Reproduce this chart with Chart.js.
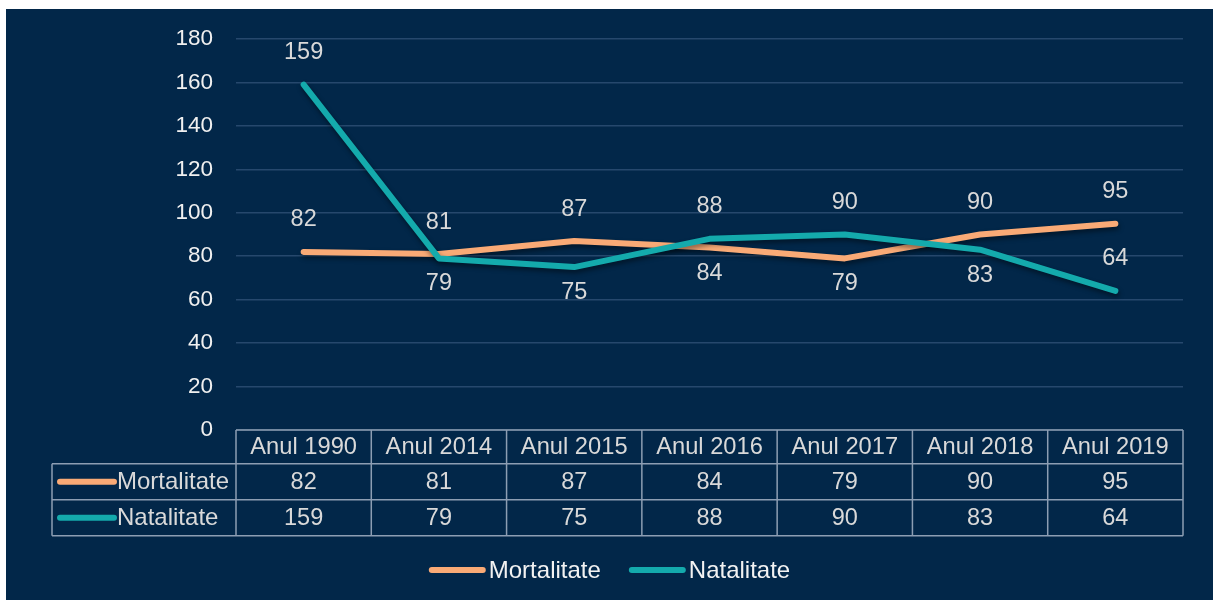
<!DOCTYPE html>
<html><head><meta charset="utf-8">
<script src="https://cdn.jsdelivr.net/npm/chart.js@4.4.0/dist/chart.umd.min.js"></script>
<style>html,body{margin:0;padding:0;background:#fff;overflow:hidden}#wrap{width:1213px;height:600px;position:relative}</style>
</head><body><div id="wrap"><canvas id="c" width="1213" height="600"></canvas></div>
<script>
const categories = ['Anul 1990','Anul 2014','Anul 2015','Anul 2016','Anul 2017','Anul 2018','Anul 2019'];
const seriesNames = ['Mortalitate','Natalitate'];
const mortalitate = [82,81,87,84,79,90,95];
const natalitate = [159,79,75,88,90,83,64];
const mortLabelPos = ['above','above','above','below','below','above','above'];
const natLabelPos = ['above','below','below','above','above','below','above'];
const yMin = 0, yMax = 180, yStep = 20;

const NAVY = '#022749';
const ORANGE = '#F9AA76';
const TEAL = '#14AAAC';
const FONT = '"Liberation Sans", Arial, sans-serif';
const labelPositions = [mortLabelPos, natLabelPos];

const bgPlugin = {
  id: 'bg',
  beforeDraw(chart) {
    const ctx = chart.ctx;
    ctx.save();
    ctx.fillStyle = '#ffffff';
    ctx.fillRect(0, 0, chart.width, chart.height);
    ctx.fillStyle = NAVY;
    ctx.fillRect(6, 9, chart.width - 6, chart.height - 9);
    ctx.restore();
  }
};

const shadowPlugin = {
  id: 'shadow',
  beforeDatasetDraw(chart) {
    const ctx = chart.ctx;
    ctx.save();
    ctx.shadowColor = 'rgba(0,0,0,0.45)';
    ctx.shadowBlur = 5;
    ctx.shadowOffsetX = 1;
    ctx.shadowOffsetY = 3;
  },
  afterDatasetDraw(chart) {
    chart.ctx.restore();
  }
};

const labelsPlugin = {
  id: 'valueLabels',
  afterDatasetsDraw(chart) {
    const ctx = chart.ctx;
    ctx.save();
    ctx.font = '23.5px ' + FONT;
    ctx.fillStyle = '#d9d9d9';
    ctx.textAlign = 'center';
    ctx.textBaseline = 'middle';
    chart.data.datasets.forEach((ds, di) => {
      const meta = chart.getDatasetMeta(di);
      meta.data.forEach((pt, i) => {
        const pos = labelPositions[di][i];
        const y = pos === 'above' ? pt.y - 32 : pt.y + 25.5;
        ctx.fillText(String(ds.data[i]), pt.x, y);
      });
    });
    ctx.restore();
  }
};

const tablePlugin = {
  id: 'dataTable',
  afterDraw(chart) {
    const ctx = chart.ctx;
    const area = chart.chartArea;
    const xs = chart.scales.x;
    const n = categories.length;
    const colW = (area.right - area.left) / n;
    const top = area.bottom;
    const headH = 33.7, rowH = 36;
    const tableLeft = 52;
    const rowsTop = top + headH;
    const bottom = rowsTop + rowH * 2;
    ctx.save();
    ctx.strokeStyle = '#8d9eb3';
    ctx.lineWidth = 1.5;
    ctx.beginPath();
    ctx.moveTo(area.left, top); ctx.lineTo(area.right, top);
    ctx.moveTo(tableLeft, rowsTop); ctx.lineTo(area.right, rowsTop);
    ctx.moveTo(tableLeft, rowsTop + rowH); ctx.lineTo(area.right, rowsTop + rowH);
    ctx.moveTo(tableLeft, bottom); ctx.lineTo(area.right, bottom);
    for (let k = 0; k <= n; k++) {
      const x = area.left + k * colW;
      ctx.moveTo(x, top); ctx.lineTo(x, bottom);
    }
    ctx.moveTo(tableLeft, rowsTop); ctx.lineTo(tableLeft, bottom);
    ctx.stroke();

    ctx.fillStyle = '#d9d9d9';
    ctx.textBaseline = 'middle';
    ctx.textAlign = 'center';
    ctx.font = '23.7px ' + FONT;
    categories.forEach((c, i) => {
      ctx.fillText(c, xs.getPixelForValue(i), top + headH / 2 + 1);
    });
    chart.data.datasets.forEach((ds, di) => {
      const cy = rowsTop + rowH * di + rowH / 2 + 1;
      ctx.font = '23.5px ' + FONT;
      ds.data.forEach((v, i) => {
        ctx.fillText(String(v), xs.getPixelForValue(i), cy);
      });
      ctx.save();
      ctx.strokeStyle = ds.borderColor;
      ctx.lineWidth = 6;
      ctx.lineCap = 'round';
      ctx.beginPath();
      ctx.moveTo(tableLeft + 8, cy - 1); ctx.lineTo(tableLeft + 62, cy - 1);
      ctx.stroke();
      ctx.restore();
      ctx.font = '24px ' + FONT;
      ctx.textAlign = 'left';
      ctx.fillText(ds.label, tableLeft + 65, cy);
      ctx.textAlign = 'center';
    });

    ctx.font = '24px ' + FONT;
    const keyW = 57, gapT = 3, gapE = 28;
    const widths = chart.data.datasets.map(ds => keyW + gapT + ctx.measureText(ds.label).width);
    const total = widths.reduce((a, b) => a + b, 0) + gapE * (widths.length - 1);
    let x = (6 + chart.width) / 2 - total / 2;
    const ly = 570;
    chart.data.datasets.forEach((ds, di) => {
      ctx.save();
      ctx.strokeStyle = ds.borderColor;
      ctx.lineWidth = 6;
      ctx.lineCap = 'round';
      ctx.beginPath();
      ctx.moveTo(x + 3, ly); ctx.lineTo(x + keyW - 3, ly);
      ctx.stroke();
      ctx.restore();
      ctx.fillStyle = '#f2f2f2';
      ctx.textAlign = 'left';
      ctx.fillText(ds.label, x + keyW + gapT, ly + 1);
      x += widths[di] + gapE;
    });
    ctx.restore();
  }
};

new Chart(document.getElementById('c'), {
  type: 'line',
  data: {
    labels: categories,
    datasets: [
      { label: seriesNames[0], data: mortalitate, borderColor: ORANGE, backgroundColor: ORANGE,
        borderWidth: 6, pointRadius: 0, tension: 0, borderCapStyle: 'round', borderJoinStyle: 'round', order: 1 },
      { label: seriesNames[1], data: natalitate, borderColor: TEAL, backgroundColor: TEAL,
        borderWidth: 6, pointRadius: 0, tension: 0, borderCapStyle: 'round', borderJoinStyle: 'round', order: 0 }
    ]
  },
  options: {
    responsive: false,
    animation: false,
    devicePixelRatio: 1,
    layout: { padding: { left: 6, top: 39, right: 30, bottom: 170 } },
    plugins: { legend: { display: false }, tooltip: { enabled: false } },
    scales: {
      x: { type: 'category', offset: true, display: false },
      y: {
        min: yMin, max: yMax,
        afterFit(scale) { scale.width = 230; },
        ticks: { stepSize: yStep, color: '#f0f0f0', padding: 23, font: { family: FONT, size: 22.5 } },
        grid: { color: '#26486d', lineWidth: 1.5, drawTicks: false },
        border: { display: false }
      }
    }
  },
  plugins: [bgPlugin, shadowPlugin, labelsPlugin, tablePlugin]
});
</script>
</body></html>
